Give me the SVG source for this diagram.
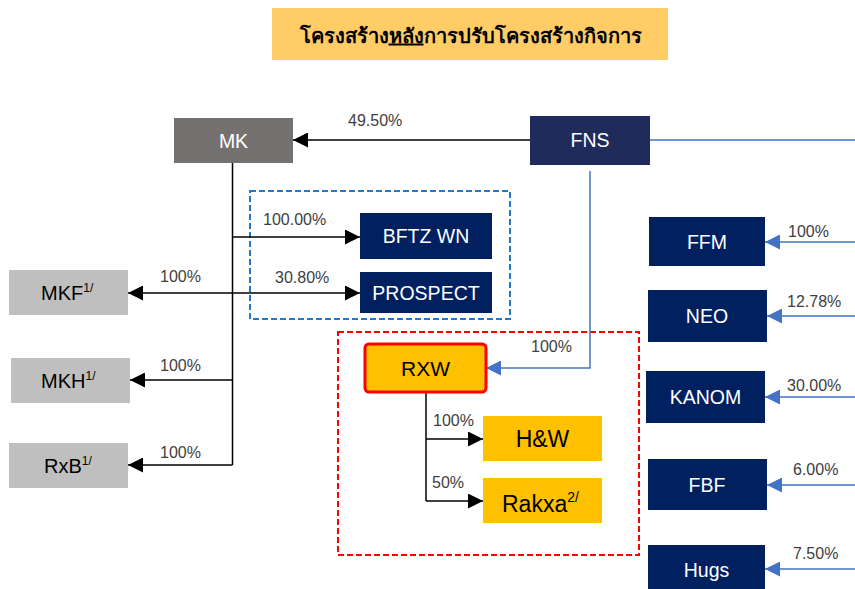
<svg xmlns="http://www.w3.org/2000/svg" width="855" height="589" viewBox="0 0 855 589">
<defs>
<style>
.t{font-family:"Liberation Sans",Arial,sans-serif}
.wt{fill:#ffffff;font-size:19.5px}
.bk{fill:#000000;font-size:20px}
.lbl{font-family:"Liberation Sans",Arial,sans-serif;fill:#404040;font-size:16px}
.navy{fill:#002060}
.grey{fill:#BFBFBF}
.gold{fill:#FFC000}
.ln{fill:none;stroke:#000000;stroke-width:1.5}
.bl{fill:none;stroke:#4472C4;stroke-width:1.5}
</style>
<marker id="ak" markerUnits="userSpaceOnUse" markerWidth="15" markerHeight="15" refX="15" refY="7.5" orient="auto-start-reverse"><path d="M0,0 L15,7.5 L0,15 z" fill="#000000"/></marker>
<marker id="ab" markerUnits="userSpaceOnUse" markerWidth="15" markerHeight="15" refX="15" refY="7.5" orient="auto"><path d="M0,0 L15,7.5 L0,15 z" fill="#4472C4"/></marker>
</defs>
<rect width="855" height="589" fill="#ffffff"/>

<g id="title">
<rect x="272" y="8" width="396" height="52" fill="#FFCC66"/>
<text x="470.5" y="42.5" text-anchor="middle" font-family="'Noto Sans','DejaVu Sans',sans-serif" font-size="20" font-weight="bold" fill="#000000">โครงสร้าง<tspan text-decoration="underline">หลัง</tspan>การปรับโครงสร้างกิจการ</text>
</g>

<g id="groups">
<rect x="250" y="191" width="260" height="128" fill="none" stroke="#1F78C8" stroke-width="2" stroke-dasharray="6,3"/>
<rect x="338" y="332" width="301" height="223" fill="none" stroke="#FF0000" stroke-width="2" stroke-dasharray="6,3"/>
</g>

<g id="connectors">
<path class="ln" d="M530,140 H293" marker-end="url(#ak)"/>
<path class="ln" d="M232.5,163 V465"/>
<path class="ln" d="M232.5,237 H360" marker-end="url(#ak)"/>
<path class="ln" d="M128,293 H360" marker-start="url(#ak)" marker-end="url(#ak)"/>
<path class="ln" d="M232.5,380 H130" marker-end="url(#ak)"/>
<path class="ln" d="M232.5,465 H128" marker-end="url(#ak)"/>
<path class="bl" d="M650,140 H855"/>
<path class="bl" d="M590,171 V368 H486" marker-end="url(#ab)"/>
<path class="ln" d="M426,392 V501"/>
<path class="ln" d="M426,439 H483" marker-end="url(#ak)"/>
<path class="ln" d="M426,501 H483" marker-end="url(#ak)"/>
<path class="bl" d="M855,242 H765" marker-end="url(#ab)"/>
<path class="bl" d="M855,316 H767" marker-end="url(#ab)"/>
<path class="bl" d="M855,397 H765" marker-end="url(#ab)"/>
<path class="bl" d="M855,485 H767" marker-end="url(#ab)"/>
<path class="bl" d="M855,569 H765" marker-end="url(#ab)"/>
<text class="lbl" x="348" y="126">49.50%</text>
<text class="lbl" x="263" y="225">100.00%</text>
<text class="lbl" x="275" y="283">30.80%</text>
<text class="lbl" x="160" y="282">100%</text>
<text class="lbl" x="160" y="371">100%</text>
<text class="lbl" x="160" y="458">100%</text>
<text class="lbl" x="531" y="352">100%</text>
<text class="lbl" x="433" y="426">100%</text>
<text class="lbl" x="432" y="488">50%</text>
<text class="lbl" x="788" y="237">100%</text>
<text class="lbl" x="787" y="307">12.78%</text>
<text class="lbl" x="787" y="391">30.00%</text>
<text class="lbl" x="793" y="475">6.00%</text>
<text class="lbl" x="793" y="559">7.50%</text>
</g>

<g id="node-MK"><rect x="174" y="118" width="119" height="45" fill="#767171"/><text class="t wt" x="233.5" y="147.5" text-anchor="middle">MK</text></g>
<g id="node-FNS"><rect x="530" y="116" width="120" height="49" fill="#1F2B5B"/><text class="t wt" x="590" y="147" text-anchor="middle">FNS</text></g>
<g id="node-BFTZWN"><rect class="navy" x="360" y="213" width="132" height="46"/><text class="t wt" x="426" y="243" text-anchor="middle">BFTZ WN</text></g>
<g id="node-PROSPECT"><rect class="navy" x="360" y="272" width="132" height="41"/><text class="t wt" x="426" y="299.5" text-anchor="middle">PROSPECT</text></g>
<g id="node-MKF"><rect class="grey" x="9" y="270" width="119" height="45"/><text class="t bk" x="41" y="300">MKF<tspan font-size="12" dy="-8">1/</tspan></text></g>
<g id="node-MKH"><rect class="grey" x="11" y="358" width="119" height="45"/><text class="t bk" x="41" y="388">MKH<tspan font-size="12" dy="-8">1/</tspan></text></g>
<g id="node-RxB"><rect class="grey" x="9" y="443" width="119" height="45"/><text class="t bk" x="44" y="473">RxB<tspan font-size="12" dy="-8">1/</tspan></text></g>
<g id="node-RXW"><rect class="gold" x="365" y="344" width="121" height="48" rx="4" stroke="#FF0000" stroke-width="3"/><text class="t" x="425.5" y="375.5" text-anchor="middle" font-size="21" fill="#000000">RXW</text></g>
<g id="node-HW"><rect class="gold" x="483" y="416" width="119" height="45"/><text class="t" x="542.5" y="447" text-anchor="middle" font-size="23" fill="#000000">H&amp;W</text></g>
<g id="node-Rakxa"><rect class="gold" x="483" y="478" width="119" height="45"/><text class="t" x="502" y="512" font-size="23" fill="#000000">Rakxa<tspan font-size="14" dy="-10">2/</tspan></text></g>
<g id="node-FFM"><rect class="navy" x="649" y="217" width="116" height="49"/><text class="t wt" x="707" y="248.5" text-anchor="middle">FFM</text></g>
<g id="node-NEO"><rect class="navy" x="648" y="290" width="119" height="52"/><text class="t wt" x="707" y="322.5" text-anchor="middle">NEO</text></g>
<g id="node-KANOM"><rect class="navy" x="646" y="371" width="119" height="52"/><text class="t wt" x="705.5" y="403.5" text-anchor="middle">KANOM</text></g>
<g id="node-FBF"><rect class="navy" x="648" y="459" width="119" height="51"/><text class="t wt" x="707" y="491.5" text-anchor="middle">FBF</text></g>
<g id="node-Hugs"><rect class="navy" x="648" y="545" width="117" height="44"/><text class="t wt" x="706.5" y="577" text-anchor="middle">Hugs</text></g>
</svg>
